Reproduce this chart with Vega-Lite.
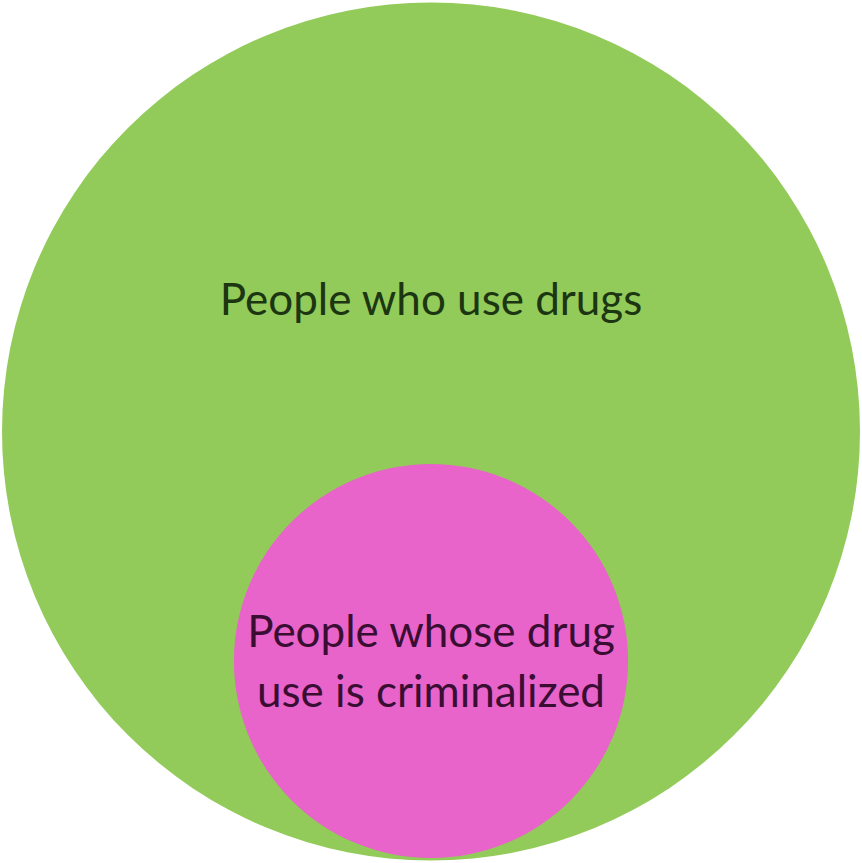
{
  "$schema": "https://vega.github.io/schema/vega-lite/v6.json",
  "width": 862,
  "height": 863,
  "padding": 0,
  "autosize": {"type": "none"},
  "background": "white",
  "config": {"view": {"stroke": null}},
  "datasets": {
    "circles": [
      {"group": "People who use drugs", "share": 100, "cx": 0, "cy": 0},
      {"group": "People whose drug use is criminalized", "share": 21.1, "cx": 0, "cy": -0.532}
    ],
    "labels": [
      {"group": "People who use drugs", "label": "People who use drugs", "lx": 0, "ly": 0.27},
      {"group": "People whose drug use is criminalized", "label": "People whose drug\nuse is criminalized", "lx": 0, "ly": -0.4994}
    ]
  },
  "layer": [
    {
      "data": {"name": "circles"},
      "mark": {"type": "point", "shape": "circle", "filled": true, "opacity": 1, "strokeWidth": 0},
      "encoding": {
        "x": {"field": "cx", "type": "quantitative", "scale": {"domain": [-1, 1]}, "axis": null},
        "y": {"field": "cy", "type": "quantitative", "scale": {"domain": [-1, 1]}, "axis": null},
        "size": {"field": "share", "type": "quantitative", "scale": {"domain": [0, 100], "range": [0, 736164]}, "legend": null},
        "color": {"field": "group", "type": "nominal", "scale": {"domain": ["People who use drugs", "People whose drug use is criminalized"], "range": ["#92CB59", "#E863CA"]}, "legend": null},
        "order": {"field": "share", "sort": "descending"}
      }
    },
    {
      "data": {"name": "labels"},
      "mark": {"type": "text", "font": "Lato", "fontSize": 44, "lineBreak": "\n", "lineHeight": 60, "align": "center", "baseline": "alphabetic"},
      "encoding": {
        "x": {"field": "lx", "type": "quantitative", "scale": {"domain": [-1, 1]}, "axis": null},
        "y": {"field": "ly", "type": "quantitative", "scale": {"domain": [-1, 1]}, "axis": null},
        "text": {"field": "label", "type": "nominal"},
        "color": {"field": "group", "type": "nominal", "scale": {"domain": ["People who use drugs", "People whose drug use is criminalized"], "range": ["#1C3612", "#3A0D33"]}, "legend": null}
      }
    }
  ],
  "resolve": {"scale": {"color": "independent"}}
}
